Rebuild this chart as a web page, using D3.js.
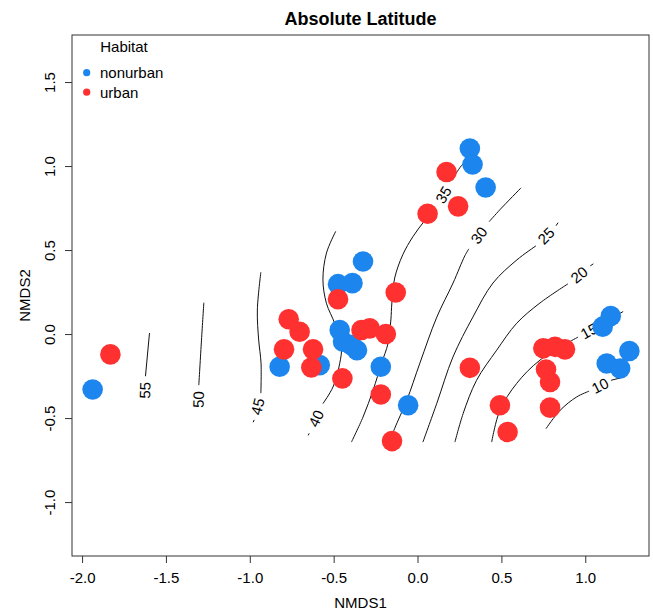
<!DOCTYPE html>
<html>
<head>
<meta charset="utf-8">
<script src="https://cdn.jsdelivr.net/npm/d3@7"></script>
<style>
  body { margin: 0; background: #fff; }
  svg text { font-family: "Liberation Sans", Arial, Helvetica, sans-serif; fill: #000; }
</style>
</head>
<body>
<svg id="chart" width="653" height="613"></svg>
<script>
// NMDS scores
const nonurbanX = [-1.937, -0.822, -0.583, -0.474, -0.388, -0.325, -0.464, -0.444, -0.394, -0.361, -0.219, -0.056, 0.312, 0.328, 0.406, 1.152, 1.104, 1.128, 1.208, 1.263];
const nonurbanY = [-0.330, -0.195, -0.185, 0.297, 0.303, 0.432, 0.024, -0.046, -0.066, -0.096, -0.195, -0.424, 1.104, 1.009, 0.872, 0.107, 0.044, -0.175, -0.205, -0.101];
const urbanX = [-1.831, -0.768, -0.703, -0.796, -0.633, -0.623, -0.474, -0.448, -0.334, -0.285, -0.189, -0.130, -0.219, -0.152, 0.060, 0.173, 0.242, 0.312, 0.491, 0.537, 0.750, 0.820, 0.879, 0.766, 0.790, 0.790];
const urbanY = [-0.121, 0.088, 0.014, -0.091, -0.199, -0.091, 0.207, -0.264, 0.024, 0.034, 0.000, 0.247, -0.360, -0.637, 0.716, 0.965, 0.760, -0.201, -0.424, -0.583, -0.085, -0.076, -0.091, -0.211, -0.285, -0.438];

// ordisurf contours: part before the label, part after it
const contourLevels = [55, 50, 45, 40, 35, 30, 25, 20, 15, 10];
const contourBefore = [
  [[-1.598, 0.006], [-1.622, -0.251]],
  [[-1.274, 0.187], [-1.288, -0.036], [-1.304, -0.304]],
  [[-0.934, 0.368], [-0.955, 0.143], [-0.947, -0.036], [-0.933, -0.173], [-0.934, -0.352]],
  [[-0.488, 0.611], [-0.543, 0.482], [-0.564, 0.322], [-0.543, 0.183], [-0.494, 0.064], [-0.454, -0.076], [-0.464, -0.175], [-0.504, -0.315], [-0.564, -0.414]],
  [[0.324, 1.069], [0.253, 0.991], [0.205, 0.913]],
  [[0.617, 0.870], [0.491, 0.740], [0.427, 0.669]],
  [[0.838, 0.663], [0.826, 0.645]],
  [[1.048, 0.418], [1.030, 0.406]],
  [[0.442, -0.643], [0.491, -0.454], [0.591, -0.294], [0.730, -0.155], [0.957, -0.018]],
  [[0.766, -0.563], [0.850, -0.454], [0.949, -0.374], [1.023, -0.340]]
];
const contourAfter = [
  [[-1.628, -0.418]],
  [[-1.309, -0.475]],
  [[-0.974, -0.511], [-0.980, -0.525]],
  [[-0.646, -0.591], [-0.652, -0.603]],
  [[0.103, 0.746], [0.038, 0.669], [-0.028, 0.579], [-0.088, 0.472], [-0.136, 0.334], [-0.153, 0.185], [-0.159, 0.084], [-0.176, -0.056], [-0.215, -0.175], [-0.265, -0.334], [-0.325, -0.494], [-0.394, -0.643]],
  [[0.306, 0.507], [0.282, 0.466], [0.212, 0.304], [0.115, 0.101], [0.014, -0.173], [-0.064, -0.394], [-0.136, -0.561], [-0.165, -0.639]],
  [[0.706, 0.525], [0.593, 0.442], [0.450, 0.304], [0.330, 0.101], [0.211, -0.137], [0.115, -0.412], [0.032, -0.643]],
  [[0.897, 0.299], [0.730, 0.185], [0.591, 0.064], [0.472, -0.096], [0.352, -0.275], [0.272, -0.473], [0.223, -0.643]],
  [[1.088, 0.054], [1.226, 0.134]],
  [[1.154, -0.275], [1.214, -0.260]]
];

const xTicks = [-2.0, -1.5, -1.0, -0.5, 0.0, 0.5, 1.0];
const yTicks = [-1.0, -0.5, 0.0, 0.5, 1.0, 1.5];
const groups = ["nonurban", "urban"];
const colors = ["#1c86ee", "#ff3030"];

const svg = d3.select("#chart");
const plotL = 72, plotR = 649, plotT = 35, plotB = 556;

const x = d3.scaleLinear().domain([-2.060, 1.380]).range([plotL, plotR]);
const y = d3.scaleLinear().domain([-1.321, 1.780]).range([plotB, plotT]);

// axes
const fmt = d => d.toFixed(1);
const gx = svg.append("g")
  .attr("transform", `translate(0,${plotB})`)
  .call(d3.axisBottom(x).tickValues(xTicks).tickSize(7).tickPadding(9).tickFormat(fmt));
gx.select(".domain").remove();
gx.selectAll("text").attr("font-size", 15).attr("font-family", null);

const gy = svg.append("g")
  .attr("transform", `translate(${plotL},0)`)
  .call(d3.axisLeft(y).tickValues(yTicks).tickSize(7).tickFormat(fmt));
gy.select(".domain").remove();
gy.selectAll("text")
  .attr("x", null).attr("dy", null)
  .attr("text-anchor", "middle")
  .attr("transform", "translate(-17,0) rotate(-90)")
  .attr("font-size", 15).attr("font-family", null);
svg.selectAll(".tick line").attr("stroke", "#333");

svg.append("rect")
  .attr("x", plotL).attr("y", plotT)
  .attr("width", plotR - plotL).attr("height", plotB - plotT)
  .attr("fill", "none").attr("stroke", "#333");

// contours
const line = d3.line().x(d => x(d[0])).y(d => y(d[1])).curve(d3.curveCatmullRom);
const cg = svg.append("g");
contourLevels.forEach((lev, i) => {
  const a = contourBefore[i], b = contourAfter[i];
  cg.append("path").attr("d", line(a)).attr("fill", "none").attr("stroke", "#111").attr("stroke-width", 1);
  if (b.length > 1) {
    cg.append("path").attr("d", line(b)).attr("fill", "none").attr("stroke", "#111").attr("stroke-width", 1);
  }
  const p0 = [x(a[a.length - 1][0]), y(a[a.length - 1][1])];
  const p1 = [x(b[0][0]), y(b[0][1])];
  let ang = Math.atan2(p1[1] - p0[1], p1[0] - p0[0]) * 180 / Math.PI;
  if (ang > 90) ang -= 180;
  if (ang < -90) ang += 180;
  const cx = (p0[0] + p1[0]) / 2, cy = (p0[1] + p1[1]) / 2;
  cg.append("text")
    .attr("transform", `translate(${cx},${cy}) rotate(${ang})`)
    .attr("text-anchor", "middle")
    .attr("dy", "0.36em")
    .attr("font-size", 15)
    .text(lev);
});

// points
const pts = svg.append("g");
pts.selectAll(".nonurban")
  .data(d3.zip(nonurbanX, nonurbanY))
  .join("circle")
  .attr("class", "nonurban")
  .attr("cx", d => x(d[0])).attr("cy", d => y(d[1]))
  .attr("r", 10.3).attr("fill", colors[0]);
pts.selectAll(".urban")
  .data(d3.zip(urbanX, urbanY))
  .join("circle")
  .attr("class", "urban")
  .attr("cx", d => x(d[0])).attr("cy", d => y(d[1]))
  .attr("r", 10.3).attr("fill", colors[1]);

// legend
const lg = svg.append("g");
lg.append("text").attr("x", 124).attr("y", 52).attr("text-anchor", "middle").attr("font-size", 15).text("Habitat");
groups.forEach((g, i) => {
  lg.append("circle").attr("cx", 86.7).attr("cy", 72.7 + i * 19.5).attr("r", 3.6).attr("fill", colors[i]);
  lg.append("text").attr("x", 100).attr("y", 72.7 + i * 19.5 + 5.3).attr("font-size", 15).text(g);
});

// titles
svg.append("text").attr("x", (plotL + plotR) / 2).attr("y", 25)
  .attr("text-anchor", "middle").attr("font-size", 18).attr("font-weight", "bold")
  .text("Absolute Latitude");
svg.append("text").attr("x", (plotL + plotR) / 2).attr("y", 608)
  .attr("text-anchor", "middle").attr("font-size", 15).text("NMDS1");
svg.append("text")
  .attr("transform", `translate(30,${(plotT + plotB) / 2}) rotate(-90)`)
  .attr("text-anchor", "middle").attr("font-size", 15).text("NMDS2");
</script>
</body>
</html>
